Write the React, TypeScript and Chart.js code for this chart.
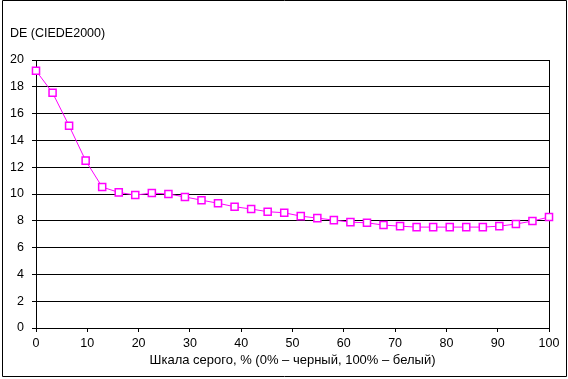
import React, { useEffect, useRef } from "react";
import { Chart, registerables } from "chart.js";

Chart.register(...registerables);

const grayLevels = [
  0, 3.23, 6.45, 9.68, 12.9, 16.13, 19.35, 22.58, 25.81, 29.03, 32.26, 35.48,
  38.71, 41.94, 45.16, 48.39, 51.61, 54.84, 58.06, 61.29, 64.52, 67.74, 70.97,
  74.19, 77.42, 80.65, 83.87, 87.1, 90.32, 93.55, 96.77, 100,
];
const deValues = [
  19.2, 17.55, 15.09, 12.49, 10.52, 10.12, 9.92, 10.07, 10.0, 9.78, 9.54, 9.31,
  9.05, 8.88, 8.68, 8.6, 8.35, 8.2, 8.05, 7.9, 7.85, 7.68, 7.6, 7.53, 7.53,
  7.53, 7.53, 7.53, 7.6, 7.76, 7.98, 8.28,
];
const yAxisTitle = "DE (CIEDE2000)";
const xAxisTitle = "Шкала серого, % (0% – черный, 100% – белый)";

const FONT = "'Liberation Sans', Arial, sans-serif";
const FS = 12.5;

const framePlugin = {
  id: "frame",
  afterDraw(chart: any) {
    const { ctx, chartArea } = chart;
    ctx.save();
    ctx.strokeStyle = "#000";
    ctx.lineWidth = 1;
    ctx.beginPath();
    ctx.rect(2.5, 0.5, 564, 376);
    ctx.stroke();
    ctx.fillStyle = "#000";
    ctx.font = `${FS}px ${FONT}`;
    ctx.textAlign = "left";
    ctx.textBaseline = "alphabetic";
    ctx.fillText(yAxisTitle, 10, 37);
    ctx.restore();
  },
  beforeDatasetsDraw(chart: any) {
    const { ctx, chartArea } = chart;
    ctx.save();
    ctx.strokeStyle = "#000";
    ctx.lineWidth = 1;
    ctx.beginPath();
    ctx.moveTo(Math.round(chartArea.right) + 0.5, chartArea.top);
    ctx.lineTo(Math.round(chartArea.right) + 0.5, chartArea.bottom);
    ctx.stroke();
    ctx.restore();
  },
};

export default function App() {
  const ref = useRef<HTMLCanvasElement>(null);
  useEffect(() => {
    document.body.style.margin = "0";
    const chart = new Chart(ref.current!, {
      type: "line",
      data: {
        datasets: [
          {
            data: grayLevels.map((x, i) => ({ x, y: deValues[i] })),
            borderColor: "#FF00FF",
            borderWidth: 1,
            pointStyle: "rect",
            pointRadius: 5,
            pointBorderWidth: 1.5,
            pointBorderColor: "#FF00FF",
            pointBackgroundColor: "#FFFFFF",
            tension: 0,
            clip: false as any,
          },
        ],
      },
      options: {
        animation: false,
        responsive: false,
        events: [],
        layout: { padding: { top: 60, left: 0, right: 19, bottom: 4 } },
        plugins: { legend: { display: false }, tooltip: { enabled: false } },
        scales: {
          x: {
            type: "linear",
            min: 0,
            max: 100,
            afterFit: (s: any) => {
              s.height = 47;
            },
            ticks: {
              stepSize: 10,
              color: "#000",
              padding: 4,
              maxRotation: 0,
              font: { family: FONT, size: FS },
            },
            grid: {
              drawOnChartArea: false,
              drawTicks: true,
              tickLength: 4,
              color: "#000",
            },
            border: { color: "#000", width: 1 },
            title: {
              display: true,
              text: xAxisTitle,
              color: "#000",
              font: { family: FONT, size: 13 },
              padding: { top: 0, bottom: 6.5 },
            },
          },
          y: {
            min: 0,
            max: 20,
            afterFit: (s: any) => {
              s.width = 36;
            },
            ticks: {
              stepSize: 2,
              color: "#000",
              padding: 8,
              font: { family: FONT, size: FS },
            },
            grid: { color: "#000", lineWidth: 1, tickLength: 4 },
            border: { color: "#000", width: 1 },
          },
        },
      },
      plugins: [framePlugin],
    });
    return () => chart.destroy();
  }, []);
  return (
    <canvas
      ref={ref}
      width={568}
      height={379}
      style={{ display: "block", width: 568, height: 379 }}
    />
  );
}
